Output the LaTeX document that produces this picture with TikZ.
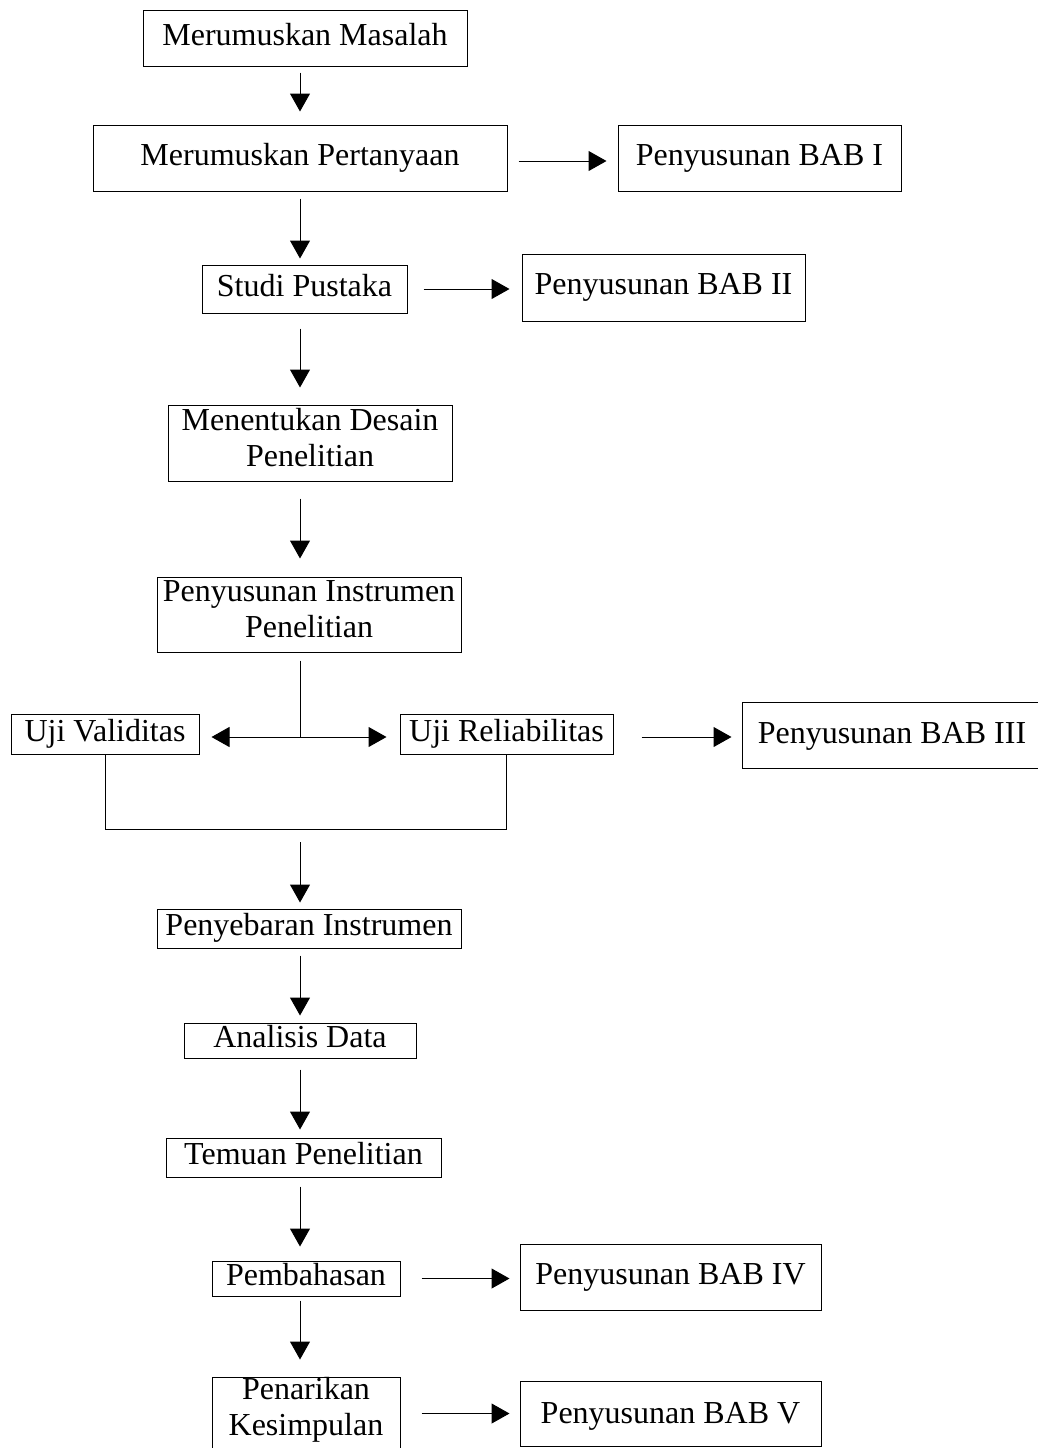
\documentclass[tikz,border=0pt]{standalone}
\usepackage{fontspec}
\setmainfont{Liberation Serif}
\usetikzlibrary{arrows.meta}

\begin{document}
\begin{tikzpicture}[x=1pt,y=-1pt,
                    tahap/.style={draw,line width=1pt,inner sep=0pt,
                                  font=\fontsize{32}{36}\selectfont,
                                  text height=22pt,text depth=8pt},
                    dua/.style={align=center,text height=58pt,text depth=12pt},
                    garis/.style={line width=1pt},
                    panah/.style={line width=1pt,-{Triangle[length=18pt,width=20pt]}}]
\useasboundingbox (0,0) rectangle (1038,1448);

\node[tahap,minimum width=324pt,minimum height=56pt] (masalah) at (305,38) {Merumuskan Masalah};
\node[tahap,minimum width=414pt,minimum height=66pt] (pertanyaan) at (300,158) {Merumuskan Pertanyaan};
\node[tahap,minimum width=283pt,minimum height=66pt] (bab1) at (759.5,158) {Penyusunan BAB I};
\node[tahap,minimum width=205pt,minimum height=48pt] (pustaka) at (304.5,289) {Studi Pustaka};
\node[tahap,minimum width=283pt,minimum height=67pt] (bab2) at (663.5,287.5) {Penyusunan BAB II};
\node[tahap,dua,minimum width=284pt,minimum height=76pt] (desain) at (310,443) {Menentukan Desain\\Penelitian};
\node[tahap,dua,minimum width=304pt,minimum height=75pt] (instrumen) at (309,614.5) {Penyusunan Instrumen\\Penelitian};
\node[tahap,minimum width=188pt,minimum height=40pt] (validitas) at (105,734) {Uji Validitas};
\node[tahap,minimum width=213pt,minimum height=40pt] (reliabilitas) at (506.5,734) {Uji Reliabilitas};
\node[tahap,minimum width=300pt,minimum height=66pt,text height=24pt] (bab3) at (892,735) {Penyusunan BAB III};
\node[tahap,minimum width=304pt,minimum height=39pt] (penyebaran) at (309,928.5) {Penyebaran Instrumen};
\node[tahap,minimum width=232pt,minimum height=35pt] (analisis) at (300,1040.5) {Analisis Data};
\node[tahap,minimum width=275pt,minimum height=39pt] (temuan) at (303.5,1157.5) {Temuan Penelitian};
\node[tahap,minimum width=188pt,minimum height=35pt] (pembahasan) at (306,1278.5) {Pembahasan};
\node[tahap,minimum width=301pt,minimum height=66pt] (bab4) at (670.5,1277) {Penyusunan BAB IV};
\node[tahap,dua,minimum width=188pt,minimum height=86pt,text depth=30pt] (penarikan) at (306,1421) {Penarikan\\Kesimpulan};
\node[tahap,minimum width=301pt,minimum height=65pt,text height=28pt] (bab5) at (670.5,1413.5) {Penyusunan BAB V};

\coordinate (poros) at (300,0);
\coordinate (cabang) at (300,737);
\coordinate (bawah) at (300,829);

% alur utama
\draw[panah,shorten <=6pt,shorten >=13pt] (masalah.south -| poros) -- (pertanyaan.north -| poros);
\draw[panah,shorten <=7pt,shorten >=6pt] (pertanyaan.south -| poros) -- (pustaka.north -| poros);
\draw[panah,shorten <=15pt,shorten >=17pt] (pustaka.south -| poros) -- (desain.north -| poros);
\draw[panah,shorten <=17pt,shorten >=18pt] (desain.south -| poros) -- (instrumen.north -| poros);
\draw[garis,shorten <=8pt] (instrumen.south -| poros) -- (cabang);
\draw[panah,shorten >=12pt] (cabang) -- (validitas.east |- cabang);
\draw[panah,shorten >=13pt] (cabang) -- (reliabilitas.west |- cabang);
\draw[garis] (validitas.south) |- (bawah) -| (reliabilitas.south);
\draw[panah,shorten <=13pt,shorten >=6pt] (bawah) -- (penyebaran.north -| bawah);
\draw[panah,shorten <=7pt,shorten >=7pt] (penyebaran.south -| poros) -- (analisis.north -| poros);
\draw[panah,shorten <=11pt,shorten >=8pt] (analisis.south -| poros) -- (temuan.north -| poros);
\draw[panah,shorten <=9pt,shorten >=14pt] (temuan.south -| poros) -- (pembahasan.north -| poros);
\draw[panah,shorten <=4pt,shorten >=17pt] (pembahasan.south -| poros) -- (penarikan.north -| poros);

% ke penyusunan bab
\draw[panah,shorten <=11pt,shorten >=11pt] ([yshift=-3pt]pertanyaan.east) -- ([yshift=-3pt]bab1.west);
\draw[panah,shorten <=16pt,shorten >=12pt] (pustaka.east) -- (pustaka.east -| bab2.west);
\draw[panah,shorten <=28pt,shorten >=10pt] (reliabilitas.east |- cabang) -- (cabang -| bab3.west);
\draw[panah,shorten <=21pt,shorten >=10pt] (pembahasan.east) -- (pembahasan.east -| bab4.west);
\draw[panah,shorten <=21pt,shorten >=10pt] (penarikan.east |- bab5) -- (bab5.west);

\end{tikzpicture}
\end{document}
